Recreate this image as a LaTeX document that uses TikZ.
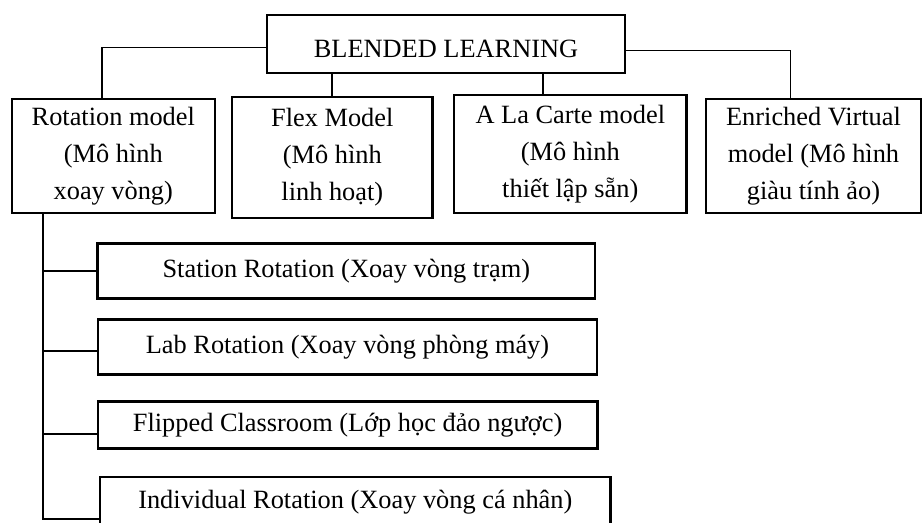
\documentclass[tikz,border=0pt]{standalone}
\usepackage{fontspec}
\setmainfont{Liberation Serif}
\usepackage{tikz}
\usetikzlibrary{calc}

\begin{document}
\begin{tikzpicture}[x=.02cm,y=-.02cm,
    modelbox/.style={draw,line width=1.4pt,align=center,inner sep=0pt,font=\fontsize{15}{21}\selectfont},
    link/.style={line width=1pt}]
        \useasboundingbox(0,0)rectangle(923,523);
        \node[modelbox,minimum width=7.16cm,minimum height=1.16cm,text height=15pt](blended)at(446,44){BLENDED LEARNING};
        \node[modelbox,minimum width=4.06cm,minimum height=2.28cm](rot)at(113.3,156){Rotation model\\(Mô hình\\xoay vòng)};
        \node[modelbox,minimum width=4.01cm,minimum height=2.42cm](flex)at(332.3,157.5){Flex Model\\(Mô hình\\linh hoạt)};
        \node[modelbox,minimum width=4.65cm,minimum height=2.36cm](carte)at(570.3,154){A La Carte model\\(Mô hình\\thiết lập sẵn)};
        \node[modelbox,minimum width=4.3cm,minimum height=2.28cm](enriched)at(813.5,156){Enriched Virtual\\model (Mô hình\\giàu tính ảo)};
        \node[modelbox,minimum width=9.95cm,minimum height=1.1cm](station)at(346.3,271){Station Rotation (Xoay vòng trạm)};
        \node[modelbox,minimum width=9.99cm,minimum height=1.1cm](lab)at(347.5,347){Lab Rotation (Xoay vòng phòng máy)};
        \node[modelbox,minimum width=9.99cm,minimum height=.94cm](flipped)at(347.6,425){Flipped Classroom (Lớp học đảo ngược)};
        \node[modelbox,minimum width=10.21cm,minimum height=1cm](indiv)at(355.3,502){Individual Rotation (Xoay vòng cá nhân)};
        % top level links
        \draw[link]([yshift=-.07cm]blended.west)-|([xshift=-.23cm]rot.north);
        \draw[link]([yshift=-.13cm]blended.east)-|([xshift=-.46cm]enriched.north);
        \draw[link](blended.south-|flex.north)--(flex.north);
        \draw[link]([xshift=-.55cm]carte.north)--([xshift=-.55cm]carte.north|-blended.south);
        % rotation sub-models
        \coordinate(spine)at([xshift=-1.4cm]rot.south);
        \coordinate(labjoin)at([yshift=-.08cm]lab.west);
        \coordinate(flipjoin)at([yshift=-.18cm]flipped.west);
        \coordinate(indivjoin)at([yshift=-.34cm]indiv.west);
        \draw[link](spine)--(spine|-indivjoin)--(indivjoin);
        \draw[link](spine|-station.west)--(station.west);
        \draw[link](spine|-labjoin)--(labjoin);
        \draw[link](spine|-flipjoin)--(flipjoin);
      \end{tikzpicture}
\end{document}
